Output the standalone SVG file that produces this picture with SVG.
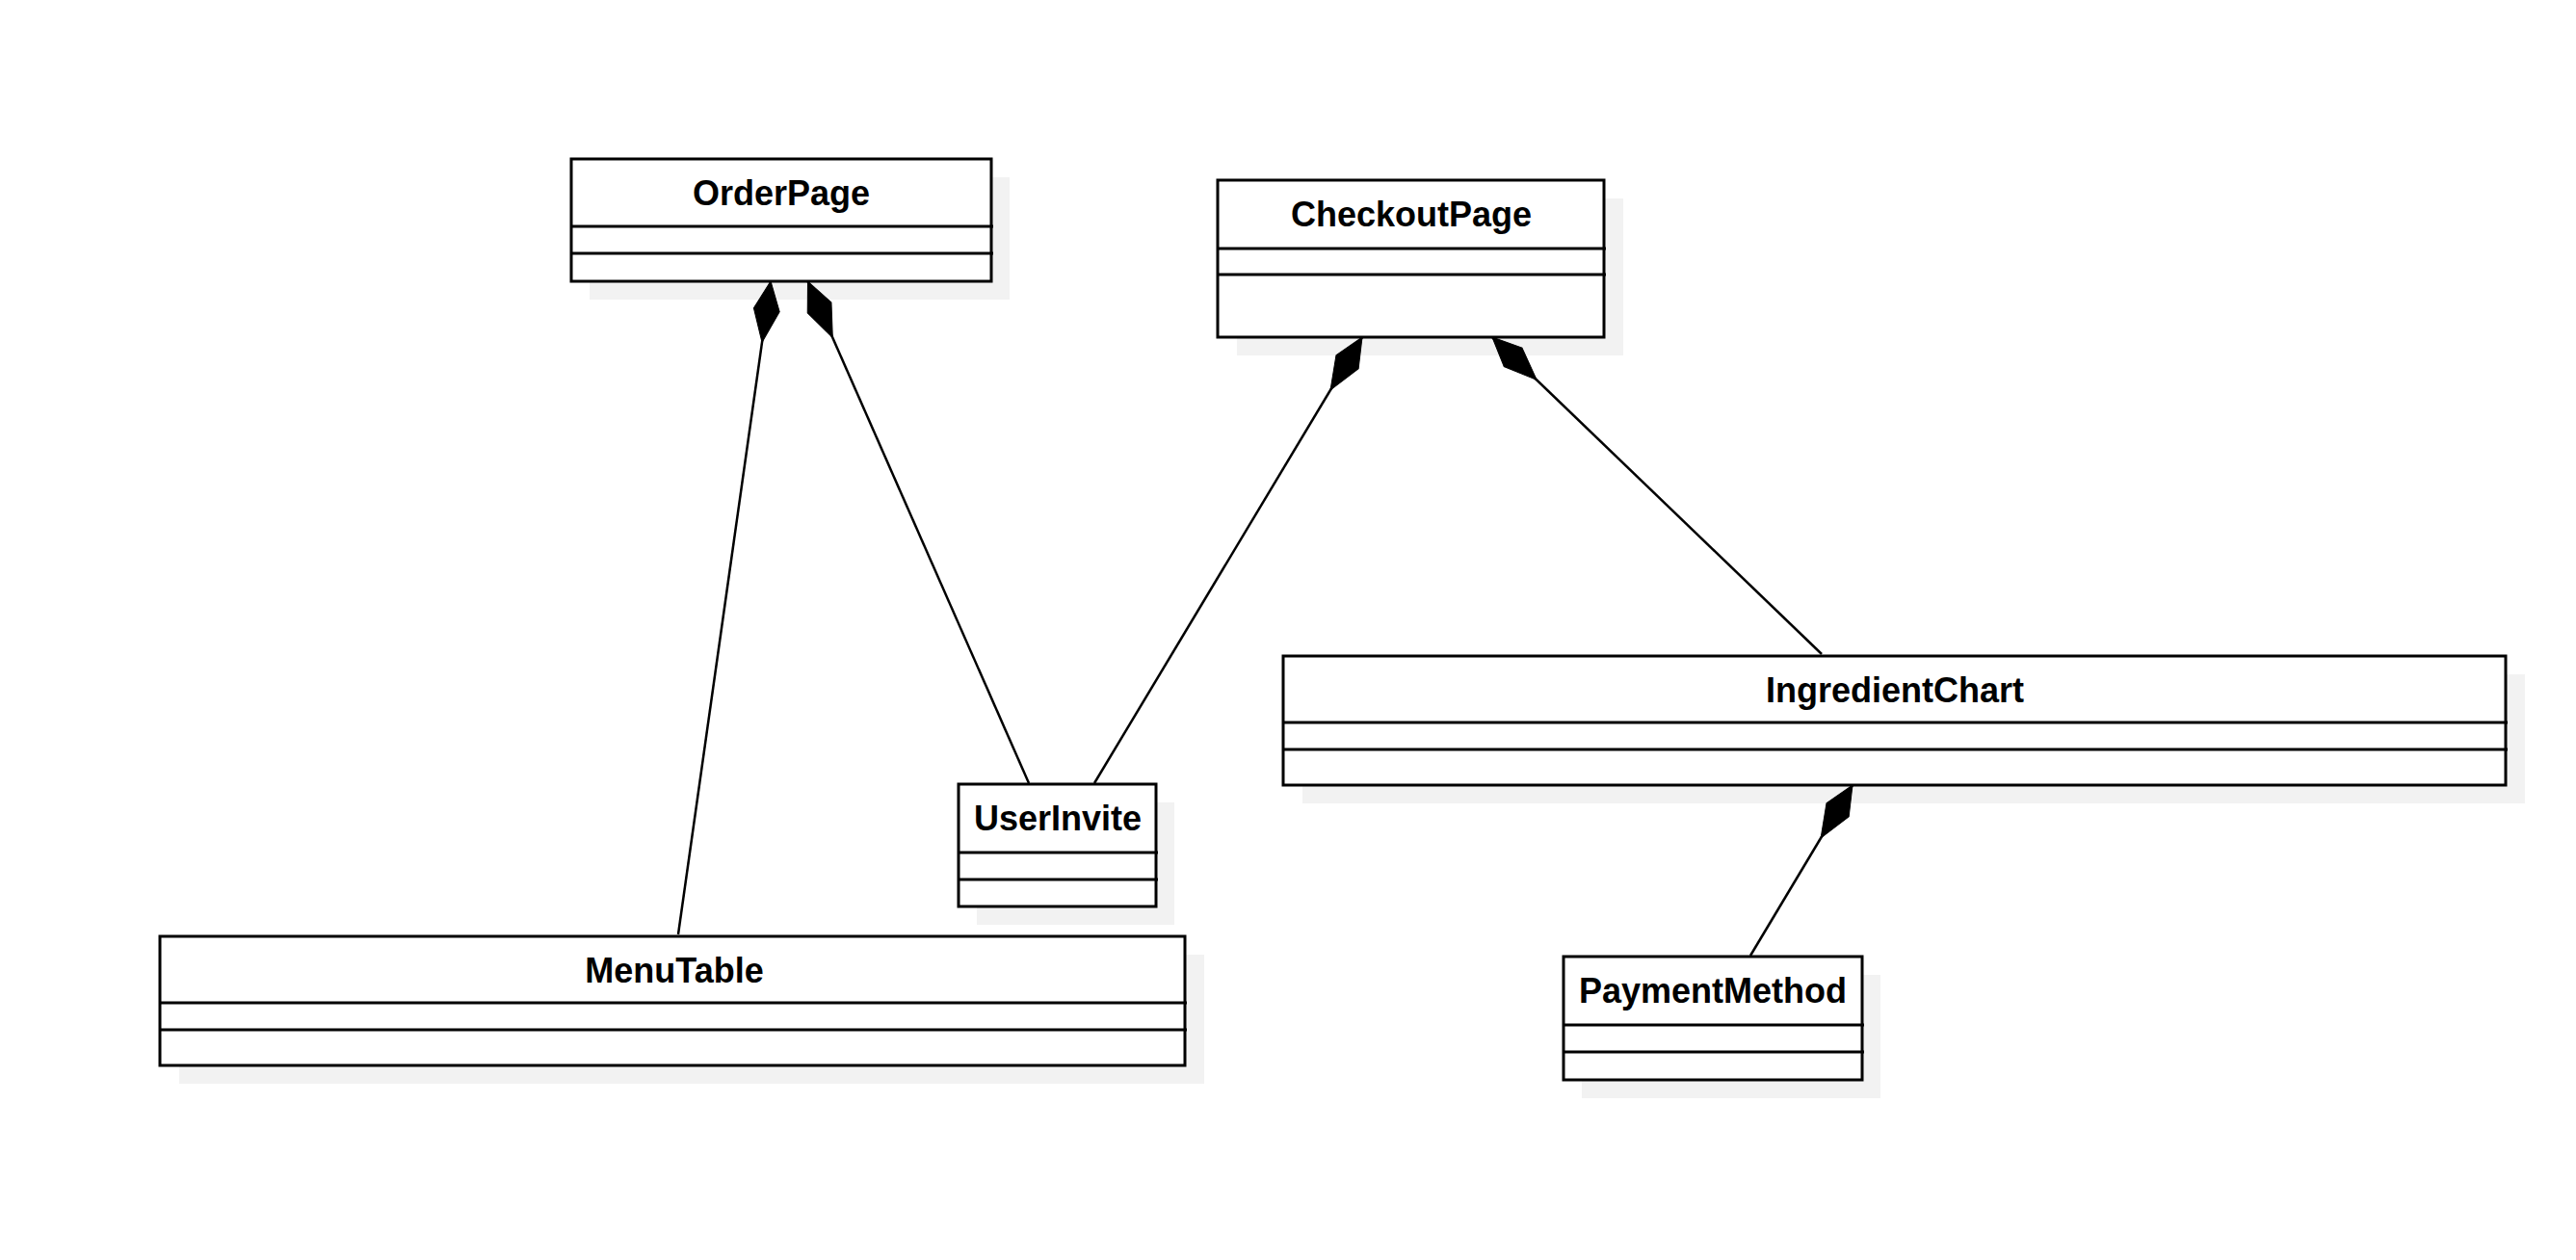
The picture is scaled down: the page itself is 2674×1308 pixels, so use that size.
<svg xmlns="http://www.w3.org/2000/svg" width="2674" height="1308" viewBox="0 0 2674 1308">
<defs>
<style>
.shadow{fill:#f2f2f2;stroke:none}
.box{fill:#ffffff;stroke:#000000;stroke-width:3}
.div{stroke:#000000;stroke-width:3;fill:none}
.title{font-family:"Liberation Sans",Arial,sans-serif;font-weight:bold;font-size:36px;fill:#000000;text-anchor:middle}
.conn{stroke:#000000;stroke-width:2.5;fill:none;marker-start:url(#comp)}
</style>
<marker id="comp" markerUnits="userSpaceOnUse" markerWidth="70" markerHeight="30" refX="0" refY="15" orient="auto" overflow="visible">
<path d="M0,15 L30,1.5 L64,15 L30,28.5 Z" fill="#000000" stroke="#000000" stroke-width="1"/>
</marker>
</defs>
<rect width="2674" height="1308" fill="#ffffff"/>
<g id="OrderPage">
<rect class="shadow" x="612" y="184" width="436" height="127"/>
<rect class="box" x="593" y="165" width="436" height="127"/>
<line class="div" x1="593" y1="235" x2="1031" y2="235"/>
<line class="div" x1="593" y1="263" x2="1031" y2="263"/>
<text class="title" x="811" y="213">OrderPage</text>
</g>
<g id="CheckoutPage">
<rect class="shadow" x="1284" y="206" width="401" height="163"/>
<rect class="box" x="1264" y="187" width="401" height="163"/>
<line class="div" x1="1264" y1="258" x2="1667" y2="258"/>
<line class="div" x1="1264" y1="285" x2="1667" y2="285"/>
<text class="title" x="1465" y="235">CheckoutPage</text>
</g>
<g id="UserInvite">
<rect class="shadow" x="1014" y="833" width="205" height="127"/>
<rect class="box" x="995" y="814" width="205" height="127"/>
<line class="div" x1="995" y1="885" x2="1202" y2="885"/>
<line class="div" x1="995" y1="913" x2="1202" y2="913"/>
<text class="title" x="1098" y="862">UserInvite</text>
</g>
<g id="MenuTable">
<rect class="shadow" x="186" y="991" width="1064" height="134"/>
<rect class="box" x="166" y="972" width="1064" height="134"/>
<line class="div" x1="166" y1="1041" x2="1232" y2="1041"/>
<line class="div" x1="166" y1="1069" x2="1232" y2="1069"/>
<text class="title" x="700" y="1020">MenuTable</text>
</g>
<g id="IngredientChart">
<rect class="shadow" x="1352" y="700" width="1269" height="134"/>
<rect class="box" x="1332" y="681" width="1269" height="134"/>
<line class="div" x1="1332" y1="750" x2="2603" y2="750"/>
<line class="div" x1="1332" y1="778" x2="2603" y2="778"/>
<text class="title" x="1967" y="729">IngredientChart</text>
</g>
<g id="PaymentMethod">
<rect class="shadow" x="1642" y="1012" width="310" height="128"/>
<rect class="box" x="1623" y="993" width="310" height="128"/>
<line class="div" x1="1623" y1="1064" x2="1935" y2="1064"/>
<line class="div" x1="1623" y1="1092" x2="1935" y2="1092"/>
<text class="title" x="1778" y="1041">PaymentMethod</text>
</g>
<g id="connectors">
<line class="conn" x1="800" y1="292" x2="704" y2="970"/>
<line class="conn" x1="838.5" y1="292" x2="1068" y2="813"/>
<line class="conn" x1="1414" y1="350" x2="1136" y2="813"/>
<line class="conn" x1="1549" y1="350" x2="1891" y2="679"/>
<line class="conn" x1="1923" y1="815" x2="1817" y2="992"/>
</g>
</svg>
